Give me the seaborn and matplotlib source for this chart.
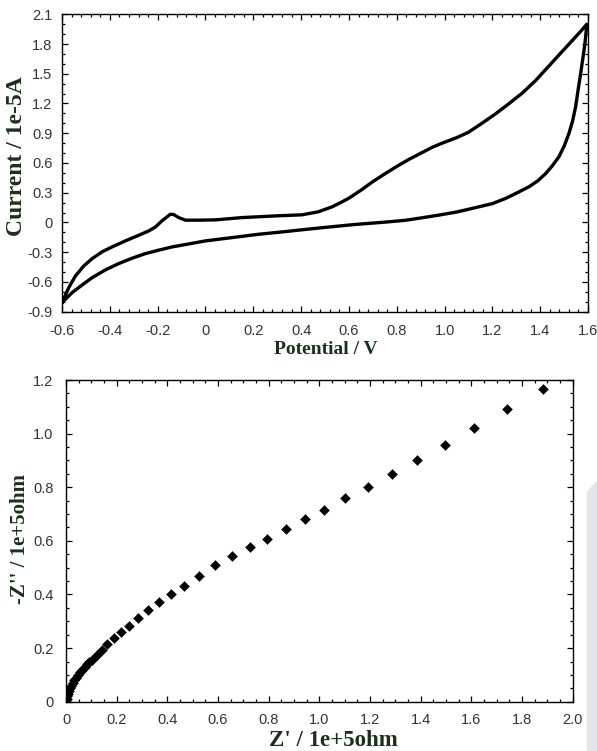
import numpy as np
import pandas as pd
import seaborn as sns
import matplotlib.pyplot as plt
from matplotlib.ticker import MultipleLocator, FuncFormatter
from matplotlib.patches import Polygon

# Cyclic voltammogram (potential in V, current in 1e-5 A)
fwd_potential = [-0.600, -0.572, -0.544, -0.509, -0.474, -0.433, -0.391, -0.335, -0.279, -0.237,
                 -0.209, -0.182, -0.161, -0.147, -0.133, -0.112, -0.084, -0.028, 0.042, 0.153,
                 0.293, 0.404, 0.471, 0.530, 0.565, 0.600, 0.650, 0.700, 0.750, 0.800,
                 0.850, 0.906, 0.950, 0.990, 1.050, 1.100, 1.150, 1.213, 1.270, 1.325,
                 1.380, 1.437, 1.490, 1.534, 1.570, 1.595]
fwd_current = [-0.809, -0.658, -0.540, -0.439, -0.365, -0.297, -0.247, -0.186, -0.129, -0.085,
               -0.045, 0.016, 0.056, 0.083, 0.080, 0.049, 0.023, 0.023, 0.026, 0.049,
               0.066, 0.077, 0.107, 0.158, 0.200, 0.245, 0.325, 0.412, 0.490, 0.565,
               0.635, 0.705, 0.760, 0.800, 0.855, 0.910, 0.990, 1.095, 1.200, 1.305,
               1.430, 1.580, 1.720, 1.835, 1.930, 2.000]

rev_potential = [1.595, 1.587, 1.578, 1.569, 1.558, 1.548, 1.535, 1.520, 1.500, 1.478,
                 1.450, 1.423, 1.390, 1.353, 1.300, 1.255, 1.200, 1.116, 1.050, 0.976,
                 0.900, 0.837, 0.750, 0.627, 0.500, 0.400, 0.335, 0.223, 0.111, 0.000,
                 -0.084, -0.140, -0.196, -0.251, -0.307, -0.363, -0.419, -0.474, -0.516, -0.558,
                 -0.600]
rev_current = [2.000, 1.804, 1.650, 1.502, 1.330, 1.166, 1.020, 0.897, 0.770, 0.662,
               0.570, 0.494, 0.420, 0.360, 0.295, 0.242, 0.190, 0.142, 0.105, 0.074,
               0.045, 0.022, 0.003, -0.020, -0.050, -0.075, -0.092, -0.119, -0.153, -0.186,
               -0.223, -0.247, -0.280, -0.314, -0.361, -0.415, -0.479, -0.557, -0.631, -0.708,
               -0.809]

# Nyquist plot points (Z' and -Z'' in 1e+5 ohm)
z_real = [0.000, 0.001, 0.003, 0.005, 0.008, 0.012, 0.016, 0.021, 0.027, 0.033,
          0.040, 0.047, 0.055, 0.064, 0.073, 0.082, 0.091, 0.101, 0.121, 0.141,
          0.163, 0.190, 0.218, 0.250, 0.286, 0.325, 0.367, 0.413, 0.465, 0.524,
          0.590, 0.657, 0.725, 0.792, 0.867, 0.943, 1.020, 1.103, 1.191, 1.287,
          1.384, 1.495, 1.612, 1.739, 1.881]
z_imag = [0.000, 0.005, 0.012, 0.020, 0.030, 0.040, 0.050, 0.060, 0.070, 0.080,
          0.090, 0.100, 0.110, 0.120, 0.130, 0.140, 0.148, 0.156, 0.174, 0.193,
          0.214, 0.236, 0.259, 0.284, 0.313, 0.342, 0.373, 0.400, 0.432, 0.468,
          0.510, 0.545, 0.576, 0.607, 0.644, 0.680, 0.715, 0.759, 0.802, 0.850,
          0.902, 0.958, 1.020, 1.092, 1.167]

cv = pd.DataFrame({
    "potential": fwd_potential + rev_potential,
    "current": fwd_current + rev_current,
})
eis = pd.DataFrame({"zre": z_real, "zim": z_imag})

sns.set_style("ticks")
plt.rcParams["axes.unicode_minus"] = False

serif = ["Liberation Serif", "DejaVu Serif"]
label_color = "#1b301b"
tick_font = ["Liberation Sans Narrow", "Liberation Sans", "DejaVu Sans"]

fig = plt.figure(figsize=(5.97, 7.51), dpi=100)
ax1 = fig.add_axes([0.1039, 0.585, 0.8811, 0.396])
ax2 = fig.add_axes([0.1106, 0.0656, 0.8487, 0.4284])

sns.lineplot(data=cv, x="potential", y="current", sort=False, estimator=None,
             color="black", linewidth=2.4, ax=ax1)
sns.scatterplot(data=eis, x="zre", y="zim", marker="D", s=26, color="black",
                edgecolor="black", linewidth=0.3, ax=ax2)


def fmt(v, pos):
    return "0" if abs(v) < 1e-9 else f"{v:.1f}"


def style(ax, xlim, ylim, xmaj, xmin, ymaj, ymin, xpad, ypad):
    ax.set_xlim(*xlim)
    ax.set_ylim(*ylim)
    ax.xaxis.set_major_locator(MultipleLocator(xmaj))
    ax.xaxis.set_minor_locator(MultipleLocator(xmin))
    ax.yaxis.set_major_locator(MultipleLocator(ymaj))
    ax.yaxis.set_minor_locator(MultipleLocator(ymin))
    ax.xaxis.set_major_formatter(FuncFormatter(fmt))
    ax.yaxis.set_major_formatter(FuncFormatter(fmt))
    ax.tick_params(which="both", direction="in", top=True, right=True,
                   color="black", width=0.9, labelsize=10.5, labelcolor="#333333")
    ax.tick_params(which="major", length=4.5)
    ax.tick_params(which="minor", length=2.5)
    ax.tick_params(axis="x", pad=xpad)
    ax.tick_params(axis="y", pad=ypad)
    for lab in ax.get_xticklabels() + ax.get_yticklabels():
        lab.set_family(tick_font)
    for sp in ax.spines.values():
        sp.set_visible(True)
        sp.set_color("black")
        sp.set_linewidth(1.0)


style(ax1, (-0.6, 1.6), (-0.9, 2.1), 0.2, 0.04, 0.3, 0.1, 9.0, 7.0)
style(ax2, (0, 2.0), (0, 1.2), 0.2, 0.05, 0.2, 0.05, 8.0, 9.0)

ax1.set_xlabel("Potential / V", family=serif, weight="bold", size=14, color=label_color)
ax1.set_ylabel("Current / 1e-5A", family=serif, weight="bold", size=17, color=label_color)
ax2.set_xlabel("Z' / 1e+5ohm", family=serif, weight="bold", size=16.5, color=label_color)
ax2.set_ylabel("-Z'' / 1e+5ohm", family=serif, weight="bold", size=15, color=label_color)
ax1.xaxis.set_label_coords(0.502, -0.098)
ax1.yaxis.set_label_coords(-0.0665, 0.523)
ax2.xaxis.set_label_coords(0.527, -0.088)
ax2.yaxis.set_label_coords(-0.072, 0.506)

# faint watermark shape at the right edge
fig.patches.append(Polygon([[0.983, 0.345], [1.0, 0.36], [1.0, 0.0], [0.983, 0.0]],
                           closed=True, transform=fig.transFigure,
                           facecolor="#e2e6eb", edgecolor="none", zorder=-1))

fig.savefig("out.png", dpi=100)
plt.close(fig)
